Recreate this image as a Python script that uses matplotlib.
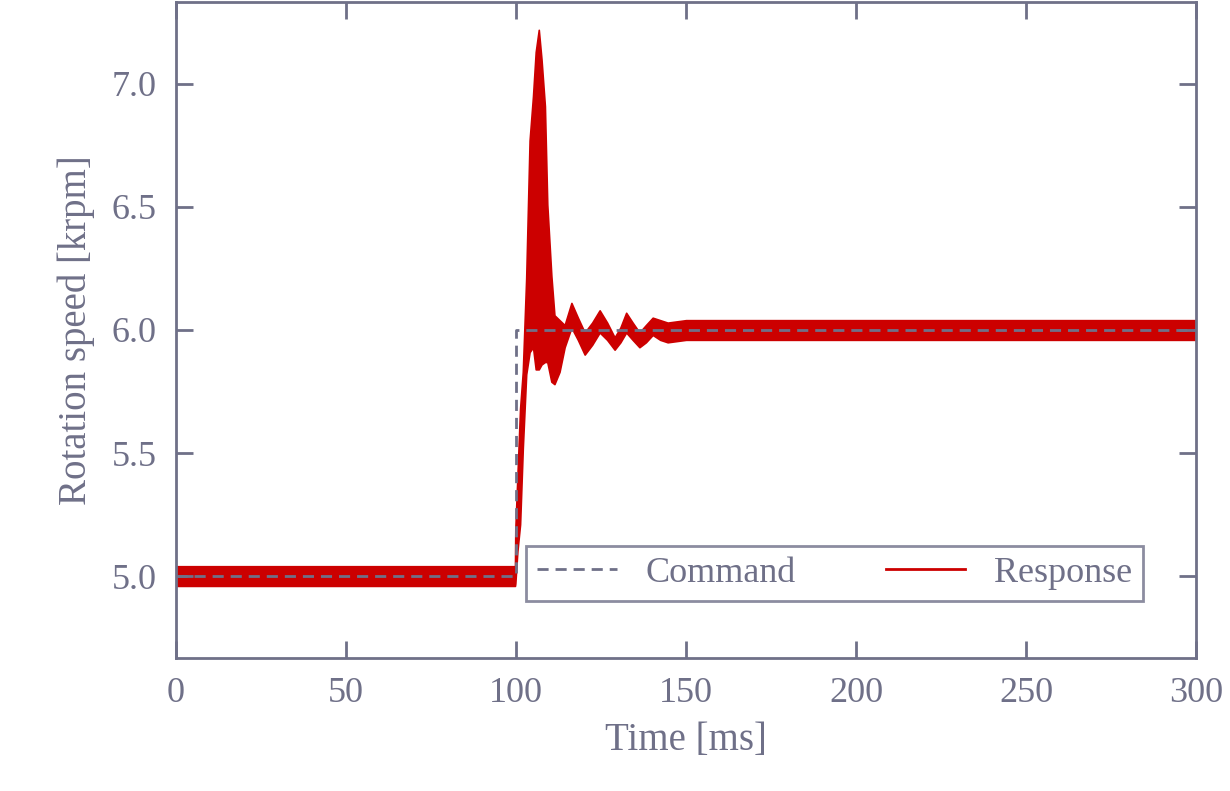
import matplotlib.pyplot as plt

plt.rcParams['font.family'] = ['Liberation Serif', 'DejaVu Serif']

GRAY = '#6f7088'
RED = '#cc0000'

# command step
cmd_t = [0, 100, 100, 300]
cmd_v = [5.0, 5.0, 6.0, 6.0]

# response envelope (time ms, upper / lower krpm)
env_t = [0, 99.7, 99.8, 100.4, 101.2, 102.0, 103.0, 104.0, 105.0, 105.8, 106.7,
         107.5, 108.5, 109.2, 110.4, 111.3, 112.8, 114.3, 116.3, 118.2, 120.2,
         122.4, 124.6, 126.8, 129.0, 130.7, 132.4, 134.3, 136.3, 138.2, 140.2,
         142.4, 144.6, 150, 300]
env_hi = [5.04, 5.04, 5.19, 5.40, 5.68, 5.83, 6.21, 6.77, 6.95, 7.13, 7.22,
          7.10, 6.91, 6.51, 6.22, 6.06, 6.04, 6.02, 6.11, 6.05, 5.99,
          6.03, 6.08, 6.03, 5.97, 6.01, 6.07, 6.03, 5.99, 6.02, 6.05,
          6.04, 6.03, 6.04, 6.04]
env_lo = [4.96, 4.96, 4.97, 5.10, 5.21, 5.52, 5.82, 5.91, 5.93, 5.84, 5.84,
          5.86, 5.87, 5.87, 5.79, 5.78, 5.83, 5.93, 6.01, 5.96, 5.90,
          5.94, 5.99, 5.96, 5.92, 5.95, 5.99, 5.96, 5.93, 5.95, 5.98,
          5.96, 5.95, 5.96, 5.96]

fig = plt.figure(figsize=(12.3, 7.91), dpi=100)
ax = fig.add_axes([176/1230, 1 - 658/791, 1020/1230, 656/791])

ax.fill_between(env_t, env_lo, env_hi, color=RED, lw=1.2, edgecolor=RED)
ax.plot([], [], color=RED, lw=2, label='Response')
ax.plot(cmd_t, cmd_v, color=GRAY, lw=2, ls=(0, (4, 2.5)), label='Command')

ax.set_xlim(0, 300)
ax.set_ylim(4.667, 7.333)
ax.set_xticks([0, 50, 100, 150, 200, 250, 300])
ax.set_yticks([5.0, 5.5, 6.0, 6.5, 7.0])
ax.set_yticklabels(['5.0', '5.5', '6.0', '6.5', '7.0'])
ax.tick_params(direction='in', top=True, right=True, length=12, width=2,
               colors=GRAY, labelsize=26, pad=14)
for s in ax.spines.values():
    s.set_color(GRAY)
    s.set_linewidth(2)
ax.set_xlabel('Time [ms]', fontsize=28, color=GRAY, labelpad=8)
ax.set_ylabel('Rotation speed [krpm]', fontsize=28, color=GRAY, labelpad=12)

h, l = ax.get_legend_handles_labels()
leg = ax.legend(h[::-1], l[::-1], loc='lower right', bbox_to_anchor=(0.966, 0.06),
                ncol=2, fontsize=26, frameon=True, fancybox=False,
                handlelength=2.2, columnspacing=2.5, borderpad=0.3)
leg.get_frame().set_edgecolor(GRAY)
leg.get_frame().set_linewidth(2)
for t in leg.get_texts():
    t.set_color(GRAY)

fig.savefig('out.png', dpi=100)
